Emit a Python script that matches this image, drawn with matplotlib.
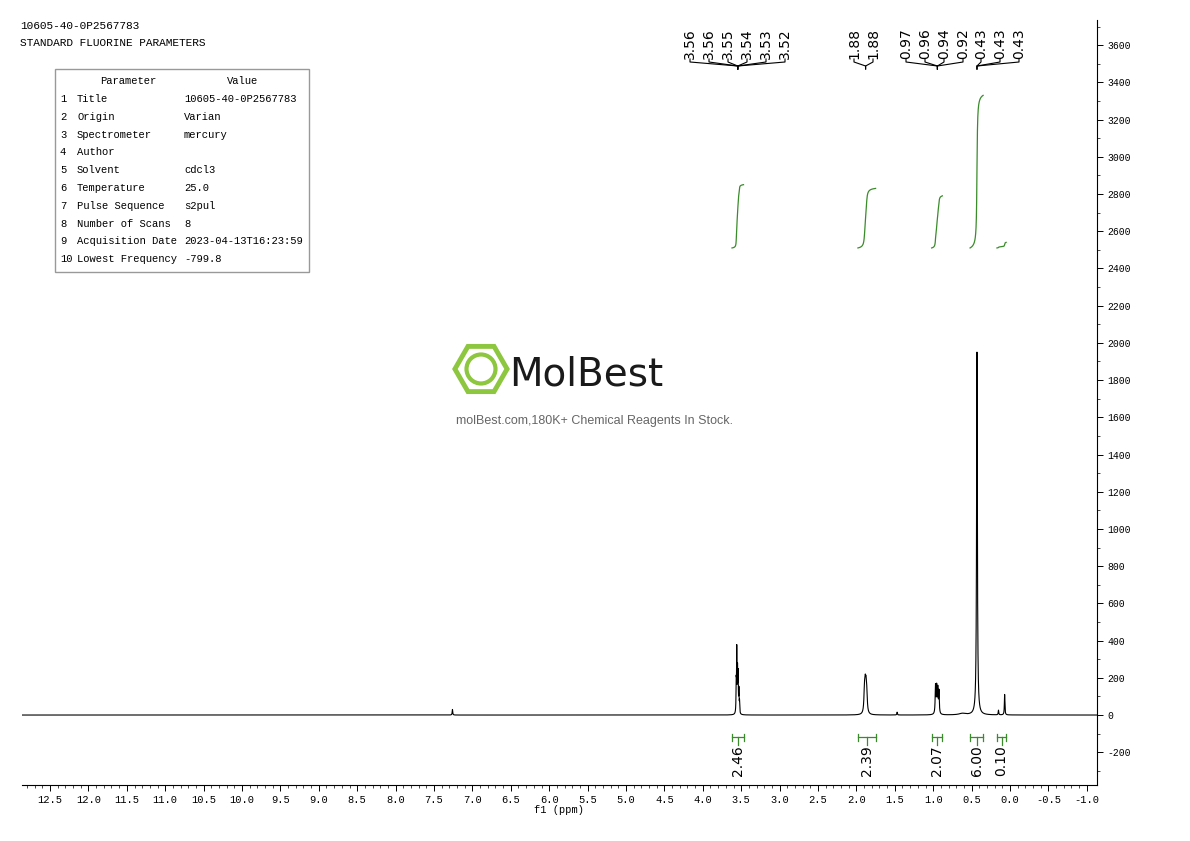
import numpy as np
import matplotlib
matplotlib.use("Agg")
import matplotlib.pyplot as plt
from matplotlib.patches import RegularPolygon, Circle, Rectangle

# ---- data ----
peak_ppm = [7.26, 3.565, 3.558, 3.548, 3.540, 3.530, 3.522, 1.895, 1.885, 1.875, 1.865, 1.47,
            0.97, 0.955, 0.94, 0.925, 0.62, 0.43, 0.15, 0.07]
peak_height = [30, 150, 330, 220, 200, 120, 60, 110, 120, 115, 90, 15,
               150, 140, 130, 120, 8, 1950, 25, 110]
peak_width = [0.004, 0.003, 0.003, 0.003, 0.003, 0.003, 0.003, 0.008, 0.008, 0.008, 0.008, 0.004,
              0.005, 0.005, 0.005, 0.005, 0.05, 0.006, 0.004, 0.004]

label_groups = [
    (["3.56", "3.56", "3.55", "3.54", "3.53", "3.52"], 3.545),
    (["1.88", "1.88"], 1.88),
    (["0.97", "0.96", "0.94", "0.92"], 0.945),
    (["0.43", "0.43", "0.43"], 0.43),
]
label_xpix = [[690, 709, 728, 747, 766, 785], [854, 873], [906, 925, 944, 963], [981, 1000, 1019]]

integral_ranges = [(3.62, 3.47), (1.98, 1.75), (1.02, 0.88), (0.52, 0.35), (0.17, 0.05)]
integral_values = ["2.46", "2.39", "2.07", "6.00", "0.10"]
integral_curve_top = [2850, 2830, 2790, 3330, 2540]

table_params = ["Title", "Origin", "Spectrometer", "Author", "Solvent", "Temperature",
                "Pulse Sequence", "Number of Scans", "Acquisition Date", "Lowest Frequency"]
table_values = ["10605-40-0P2567783", "Varian", "mercury", "", "cdcl3", "25.0",
                "s2pul", "8", "2023-04-13T16:23:59", "-799.8"]

xticks = [12.5, 12.0, 11.5, 11.0, 10.5, 10.0, 9.5, 9.0, 8.5, 8.0, 7.5, 7.0, 6.5, 6.0, 5.5,
          5.0, 4.5, 4.0, 3.5, 3.0, 2.5, 2.0, 1.5, 1.0, 0.5, 0.0, -0.5, -1.0]
yticks = list(range(-200, 3601, 200))

MONO = "Liberation Mono"
W, H = 1190, 841
fig = plt.figure(figsize=(W/100, H/100), dpi=100)
L, R, B, T = 22, 1097, 785, 20
ax = fig.add_axes([L/W, 1-B/H, (R-L)/W, (B-T)/H])
X0, X1 = 12.865, -1.133
Y0, Y1 = -376, 3735
ax.set_xlim(X0, X1)
ax.set_ylim(Y0, Y1)

x = np.linspace(X0, X1, 60000)
y = np.zeros_like(x)
for p, h, w in zip(peak_ppm, peak_height, peak_width):
    y += h * w**2 / ((x - p)**2 + w**2)
ax.plot(x, y, color="black", lw=0.8)

green = "#3a8c2a"
for (a, b), val, top in zip(integral_ranges, integral_values, integral_curve_top):
    m = (x <= a) & (x >= b)
    xs = x[m]
    cs = np.cumsum(y[m])
    cs = 2510 + (cs - cs[0]) / (cs[-1] - cs[0]) * (top - 2510)
    ax.plot(xs, cs, color=green, lw=0.9)
    ax.plot([a, b], [-120, -120], color=green, lw=0.9)
    ax.plot([a, a], [-100, -140], color=green, lw=0.9)
    ax.plot([b, b], [-100, -140], color=green, lw=0.9)
    mid = (a + b) / 2
    ax.plot([mid, mid], [-120, -160], color=green, lw=0.9)
    ax.text(mid, -165, val, rotation=90, ha="center", va="top", fontsize=10,
            family="DejaVu Sans")

for s in ["top", "left"]:
    ax.spines[s].set_visible(False)
ax.yaxis.tick_right()
ax.set_yticks(yticks)
ax.set_yticklabels([str(v) for v in yticks], fontsize=7, family=MONO)
ax.set_yticks(range(-300, 3701, 100), minor=True)
ax.set_xticks(xticks)
ax.set_xticklabels([f"{v:.1f}" for v in xticks], fontsize=7.5, family=MONO)
ax.set_xticks(np.arange(-1.0, 12.81, 0.1), minor=True)
ax.tick_params(direction="out", length=4, width=0.7)
ax.tick_params(which="minor", length=2, width=0.5)
ax.set_xlabel("f1 (ppm)", fontsize=7.5, family=MONO, labelpad=0)

def ppm2pix(p):
    return L + (X0 - p) / (X0 - X1) * (R - L)
for (labs, center), xps in zip(label_groups, label_xpix):
    cx = ppm2pix(center)
    for lab, xp in zip(labs, xps):
        fig.text(xp/W, 1-59/H, lab, rotation=90, ha="center", va="bottom", fontsize=10,
                 family="DejaVu Sans")
        fig.add_artist(plt.Line2D([xp/W, xp/W, cx/W, cx/W],
                                  [1-59/H, 1-62/H, 1-66/H, 1-69/H], color="black", lw=0.8))

fig.text(20/W, 1-26/H, "10605-40-0P2567783", fontsize=8, family=MONO, va="center")
fig.text(20/W, 1-43/H, "STANDARD FLUORINE PARAMETERS", fontsize=8, family=MONO, va="center")

fig.add_artist(Rectangle((55/W, 1-272/H), 254/W, 203/H, fill=False, edgecolor="#999999", lw=1))
fig.text(128/W, 1-81/H, "Parameter", fontsize=7.6, family=MONO, ha="center", va="center")
fig.text(243/W, 1-81/H, "Value", fontsize=7.6, family=MONO, ha="center", va="center")
for i, (p, v) in enumerate(zip(table_params, table_values)):
    yy = 1 - (99 + i * 17.8) / H
    fig.text(60/W, yy, str(i + 1), fontsize=7.6, family=MONO, va="center")
    fig.text(77/W, yy, p, fontsize=7.6, family=MONO, va="center")
    fig.text(184/W, yy, v, fontsize=7.6, family=MONO, va="center")

# watermark logo
lg = "#8dc63f"
lax = fig.add_axes([452/W, 1-398/H, 58/W, 58/H])
lax.set_xlim(-1, 1); lax.set_ylim(-1, 1); lax.set_aspect("equal"); lax.axis("off")
lax.add_patch(RegularPolygon((0, 0), 6, radius=0.9, orientation=np.pi/6, fill=False,
                             edgecolor=lg, lw=3.5))
lax.add_patch(Circle((0, 0), 0.5, fill=False, edgecolor=lg, lw=3))
fig.text(586/W, 1-374/H, "MolBest", fontsize=28, family="DejaVu Sans", ha="center",
         va="center", color="#1a1a1a")
fig.text(594/W, 1-421/H, "molBest.com,180K+ Chemical Reagents In Stock.", fontsize=9,
         family="Liberation Sans", ha="center", va="center", color="#666666")

fig.savefig("out.png", dpi=100)
